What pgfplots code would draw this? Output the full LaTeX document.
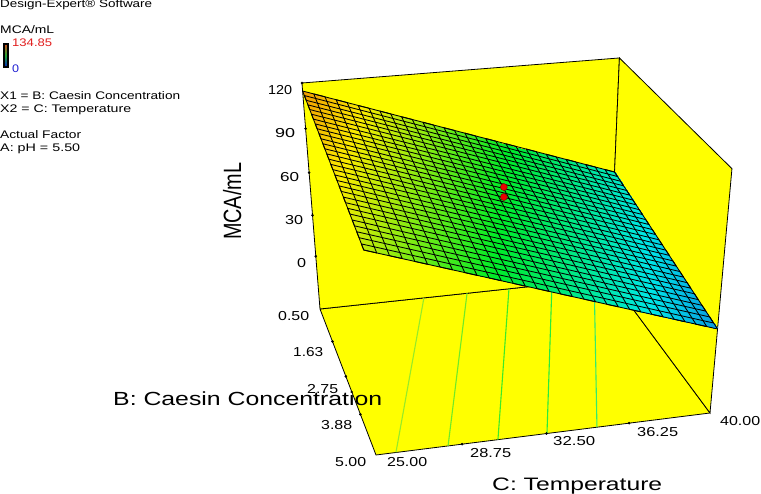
\documentclass[border=0pt]{standalone}
\usepackage{pgfplots}
\pgfplotsset{compat=1.18}
\usepackage{fontspec}
\setmainfont{Liberation Sans}
\definecolor{wally}{RGB}{255,255,0}
\definecolor{redtxt}{RGB}{225,30,30}
\definecolor{bluetxt}{RGB}{30,30,210}
\definecolor{ca}{RGB}{150,235,40}
\definecolor{cb}{RGB}{110,235,40}
\definecolor{cc}{RGB}{60,235,40}
\definecolor{cd}{RGB}{40,235,60}
\definecolor{ce}{RGB}{50,235,110}
\newcommand{\lab}[6][black]{\node[anchor=base west,inner sep=0pt,text=#1] at (axis cs:#2,#3) {\resizebox{#4pt}{\height}{\fontsize{#5pt}{#5pt}\selectfont #6}};}
\pgfplotsset{/pgfplots/table/proj/.style={
  x expr={pu(\thisrow{C},\thisrow{B},\thisrow{Z})},
  y expr={pv(\thisrow{C},\thisrow{B},\thisrow{Z})}}}
\begin{document}
\begin{tikzpicture}
\begin{axis}[
  scale only axis,width=761pt,height=494pt,hide axis,clip=false,
  xmin=0,xmax=761,ymin=0,ymax=494,y dir=reverse,
  declare function={
    cc(\C)=(\C-25)/15; bb(\B)=(\B-0.5)/4.5; zz(\Z)=(\Z+40)/160;
    den(\C,\B,\Z)=1+0.03705*cc(\C)-0.14283*bb(\B)-0.0876*zz(\Z);
    pu(\C,\B,\Z)=(312.6*cc(\C)+2.3*bb(\B)-44.5*zz(\Z)+320)/den(\C,\B,\Z);
    pv(\C,\B,\Z)=(-20.7*cc(\C)+81.01*bb(\B)-233.27*zz(\Z)+309)/den(\C,\B,\Z);
  },
  colormap={de}{rgb255=(20,60,220) rgb255=(0,230,230) rgb255=(0,235,40) rgb255=(250,235,0) rgb255=(230,40,0)},
  point meta min=0,point meta max=134.85,
]
\path (axis cs:0,0) rectangle (axis cs:761,494);
% floor
\addplot[fill=wally,draw=black,line width=0.8pt] table[proj]{
C B Z
25 0.5 -40
25 5 -40
40 5 -40
40 0.5 -40
25 0.5 -40
};
% back-left wall
\addplot[fill=wally,draw=black,line width=0.8pt] table[proj]{
C B Z
25 0.5 -40
25 0.5 120
40 0.5 120
40 0.5 -40
25 0.5 -40
};
% right wall
\addplot[fill=wally,draw=black,line width=0.8pt] table[proj]{
C B Z
40 0.5 -40
40 0.5 120
40 5 120
40 5 -40
40 0.5 -40
};
% floor contours
\addplot[draw=ca,line width=1.1pt,no markers] table[proj]{
C B Z
30.25 0.5 -40
25.86 5 -40
};
\addplot[draw=cb,line width=1.1pt,no markers] table[proj]{
C B Z
32.47 0.5 -40
28.13 5 -40
};
\addplot[draw=cc,line width=1.1pt,no markers] table[proj]{
C B Z
34.65 0.5 -40
30.33 5 -40
};
\addplot[draw=cd,line width=1.1pt,no markers] table[proj]{
C B Z
36.91 0.5 -40
32.52 5 -40
};
\addplot[draw=ce,line width=1.1pt,no markers] table[proj]{
C B Z
39.15 0.5 -40
34.78 5 -40
};
% surface
\addplot[surf,shader=interp,mesh/rows=7,mesh/cols=7,mesh/ordering=x varies,point meta=\thisrow{Z}] table[proj]{
C B Z
25 0.5 114.8
27.5 0.5 102.4
30 0.5 90.1
32.5 0.5 77.7
35 0.5 65.3
37.5 0.5 53.0
40 0.5 40.6
25 1.25 111.2
27.5 1.25 98.8
30 1.25 86.4
32.5 1.25 74.1
35 1.25 61.7
37.5 1.25 49.3
40 1.25 37.0
25 2 107.5
27.5 2 95.2
30 2 82.8
32.5 2 70.4
35 2 58.1
37.5 2 45.7
40 2 33.3
25 2.75 103.9
27.5 2.75 91.5
30 2.75 79.2
32.5 2.75 66.8
35 2.75 54.4
37.5 2.75 42.1
40 2.75 29.7
25 3.5 100.3
27.5 3.5 87.9
30 3.5 75.5
32.5 3.5 63.2
35 3.5 50.8
37.5 3.5 38.4
40 3.5 26.1
25 4.25 96.6
27.5 4.25 84.3
30 4.25 71.9
32.5 4.25 59.5
35 4.25 47.2
37.5 4.25 34.8
40 4.25 22.4
25 5 93.0
27.5 5 80.6
30 5 68.3
32.5 5 55.9
35 5 43.5
37.5 5 31.2
40 5 18.8
};
% mesh lines of constant temperature
\addplot[black,line width=0.85pt,line join=round] table[proj]{
C B Z
25 0.5 114.8
25 5 93.0
25.5 5 90.5
25.5 0.5 112.3
26 0.5 109.9
26 5 88.1
26.5 5 85.6
26.5 0.5 107.4
27 0.5 104.9
27 5 83.1
27.5 5 80.6
27.5 0.5 102.4
28 0.5 100.0
28 5 78.2
28.5 5 75.7
28.5 0.5 97.5
29 0.5 95.0
29 5 73.2
29.5 5 70.7
29.5 0.5 92.5
30 0.5 90.1
30 5 68.3
30.5 5 65.8
30.5 0.5 87.6
31 0.5 85.1
31 5 63.3
31.5 5 60.8
31.5 0.5 82.6
32 0.5 80.2
32 5 58.4
32.5 5 55.9
32.5 0.5 77.7
33 0.5 75.2
33 5 53.4
33.5 5 51.0
33.5 0.5 72.8
34 0.5 70.3
34 5 48.5
34.5 5 46.0
34.5 0.5 67.8
35 0.5 65.3
35 5 43.5
35.5 5 41.1
35.5 0.5 62.9
36 0.5 60.4
36 5 38.6
36.5 5 36.1
36.5 0.5 57.9
37 0.5 55.4
37 5 33.6
37.5 5 31.2
37.5 0.5 53.0
38 0.5 50.5
38 5 28.7
38.5 5 26.2
38.5 0.5 48.0
39 0.5 45.5
39 5 23.7
39.5 5 21.3
39.5 0.5 43.1
40 0.5 40.6
40 5 18.8
};
% mesh lines of constant concentration
\addplot[black,line width=0.85pt,line join=round] table[proj]{
C B Z
25 0.5 114.8
40 0.5 40.6
40 0.65 39.9
25 0.65 114.1
25 0.8 113.3
40 0.8 39.1
40 0.95 38.4
25 0.95 112.6
25 1.1 111.9
40 1.1 37.7
40 1.25 37.0
25 1.25 111.2
25 1.4 110.4
40 1.4 36.2
40 1.55 35.5
25 1.55 109.7
25 1.7 109.0
40 1.7 34.8
40 1.85 34.1
25 1.85 108.3
25 2 107.5
40 2 33.3
40 2.15 32.6
25 2.15 106.8
25 2.3 106.1
40 2.3 31.9
40 2.45 31.2
25 2.45 105.4
25 2.6 104.6
40 2.6 30.4
40 2.75 29.7
25 2.75 103.9
25 2.9 103.2
40 2.9 29.0
40 3.05 28.3
25 3.05 102.5
25 3.2 101.7
40 3.2 27.5
40 3.35 26.8
25 3.35 101.0
25 3.5 100.3
40 3.5 26.1
40 3.65 25.3
25 3.65 99.5
25 3.8 98.8
40 3.8 24.6
40 3.95 23.9
25 3.95 98.1
25 4.1 97.4
40 4.1 23.2
40 4.25 22.4
25 4.25 96.6
25 4.4 95.9
40 4.4 21.7
40 4.55 21.0
25 4.55 95.2
25 4.7 94.5
40 4.7 20.3
40 4.85 19.5
25 4.85 93.7
25 5 93.0
40 5 18.8
};
% design points
\addplot[only marks,mark=*,mark size=3.5pt,mark options={fill={rgb,255:red,235;green,0;blue,0},draw={rgb,255:red,110;green,0;blue,0},line width=0.4pt}] table[proj]{
C B Z
32.5 2.75 73
32.5 2.75 79.5
};
% ticks
\addplot[only marks,mark=*,mark size=1.1pt,black] table[proj]{
C B Z
25 0.5 0
25 0.5 30
25 0.5 60
25 0.5 90
25 0.5 120
25 1.63 -40
25 2.75 -40
25 3.88 -40
28.75 5 -40
32.5 5 -40
36.25 5 -40
};
% tick labels
\lab{268}{95}{24}{13}{120}
\lab{275}{138}{20}{13}{90}
\lab{280}{182}{19}{13}{60}
\lab{285}{225}{18}{13}{30}
\lab{297}{268}{9}{13}{0}
\lab{278}{321}{31}{13}{0.50}
\lab{293}{357}{30}{13}{1.63}
\lab{307}{394}{31}{13}{2.75}
\lab{321}{430}{31}{13}{3.88}
\lab{335}{467}{31}{13}{5.00}
\lab{387}{467}{40}{13}{25.00}
\lab{470}{457}{41}{13}{28.75}
\lab{553}{446}{42}{13}{32.50}
\lab{637}{436}{41}{13}{36.25}
\lab{720}{425}{40}{13}{40.00}
% axis titles
\lab{113}{406}{269}{19}{B: Caesin Concentration}
\lab{492}{490}{170}{18}{C: Temperature}
\node[anchor=base west,inner sep=0pt,rotate=90] at (axis cs:241,240) {\resizebox{77pt}{\height}{\fontsize{25pt}{25pt}\selectfont MCA/mL}};
% notes
\lab{0}{8}{152}{11}{Design-Expert® Software}
\lab{0}{34}{54}{11}{MCA/mL}
\lab[redtxt]{12}{47}{40}{11}{134.85}
\lab[bluetxt]{12}{73}{7}{11}{0}
\lab{0}{100}{180}{11}{X1 = B: Caesin Concentration}
\lab{0}{113}{131}{11}{X2 = C: Temperature}
\lab{0}{139}{81}{11}{Actual Factor}
\lab{0}{152}{80}{11}{A: pH = 5.50}
\path[draw=black,line width=2pt,top color={rgb,255:red,200;green,80;blue,30},bottom color={rgb,255:red,0;green,30;blue,200},middle color={rgb,255:red,30;green,170;blue,50}] (axis cs:3.8,44.5) rectangle (axis cs:8.3,67);
\end{axis}
\end{tikzpicture}
\end{document}
